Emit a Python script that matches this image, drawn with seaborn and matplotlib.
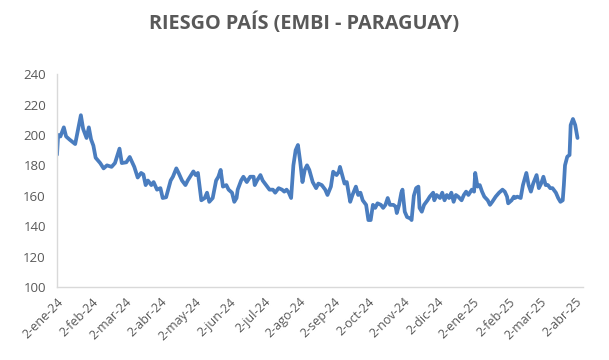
import pandas as pd
import seaborn as sns
import matplotlib.pyplot as plt

# valores (EMBI Paraguay, puntos basicos)
fechas = ['2024-01-02', '2024-01-03', '2024-01-05', '2024-01-08', '2024-01-10', '2024-01-13',
          '2024-01-18', '2024-01-23', '2024-01-25', '2024-01-28', '2024-01-30', '2024-02-01',
          '2024-02-03', '2024-02-05', '2024-02-09', '2024-02-12', '2024-02-15', '2024-02-19',
          '2024-02-22', '2024-02-26', '2024-02-28', '2024-03-03', '2024-03-06', '2024-03-10',
          '2024-03-13', '2024-03-16', '2024-03-18', '2024-03-20', '2024-03-22', '2024-03-25',
          '2024-03-27', '2024-03-30', '2024-04-02', '2024-04-04', '2024-04-07', '2024-04-11',
          '2024-04-13', '2024-04-16', '2024-04-18', '2024-04-21', '2024-04-24', '2024-04-26',
          '2024-04-29', '2024-05-01', '2024-05-03', '2024-05-05', '2024-05-08', '2024-05-11',
          '2024-05-13', '2024-05-15', '2024-05-18', '2024-05-21', '2024-05-23', '2024-05-25',
          '2024-05-27', '2024-05-30', '2024-06-01', '2024-06-04', '2024-06-06', '2024-06-08',
          '2024-06-09', '2024-06-12', '2024-06-14', '2024-06-17', '2024-06-20', '2024-06-23',
          '2024-06-24', '2024-06-26', '2024-06-29', '2024-07-01', '2024-07-04', '2024-07-07',
          '2024-07-10', '2024-07-12', '2024-07-15', '2024-07-18', '2024-07-20', '2024-07-22',
          '2024-07-24', '2024-07-26', '2024-07-28', '2024-07-30', '2024-08-01', '2024-08-03',
          '2024-08-05', '2024-08-07', '2024-08-09', '2024-08-11', '2024-08-14', '2024-08-17',
          '2024-08-19', '2024-08-22', '2024-08-23', '2024-08-25', '2024-08-27', '2024-08-30',
          '2024-09-01', '2024-09-04', '2024-09-06', '2024-09-07', '2024-09-09', '2024-09-11',
          '2024-09-13', '2024-09-16', '2024-09-18', '2024-09-21', '2024-09-23', '2024-09-25',
          '2024-09-27', '2024-09-30', '2024-10-02', '2024-10-04', '2024-10-06', '2024-10-08',
          '2024-10-10', '2024-10-13', '2024-10-15', '2024-10-17', '2024-10-19', '2024-10-21',
          '2024-10-24', '2024-10-26', '2024-10-27', '2024-10-29', '2024-10-31', '2024-11-01',
          '2024-11-03', '2024-11-05', '2024-11-08', '2024-11-09', '2024-11-11', '2024-11-13',
          '2024-11-15', '2024-11-16', '2024-11-18', '2024-11-20', '2024-11-23', '2024-11-25',
          '2024-11-28', '2024-11-29', '2024-12-01', '2024-12-04', '2024-12-06', '2024-12-08',
          '2024-12-10', '2024-12-12', '2024-12-14', '2024-12-16', '2024-12-18', '2024-12-20',
          '2024-12-23', '2024-12-25', '2024-12-27', '2024-12-29', '2025-01-01', '2025-01-03',
          '2025-01-04', '2025-01-06', '2025-01-08', '2025-01-10', '2025-01-12', '2025-01-15',
          '2025-01-17', '2025-01-19', '2025-01-22', '2025-01-25', '2025-01-28', '2025-01-30',
          '2025-02-01', '2025-02-02', '2025-02-05', '2025-02-07', '2025-02-08', '2025-02-10',
          '2025-02-13', '2025-02-15', '2025-02-17', '2025-02-18', '2025-02-20', '2025-02-22',
          '2025-02-24', '2025-02-27', '2025-03-01', '2025-03-03', '2025-03-05', '2025-03-07',
          '2025-03-09', '2025-03-11', '2025-03-13', '2025-03-16', '2025-03-18', '2025-03-20',
          '2025-03-22', '2025-03-23', '2025-03-24', '2025-03-26', '2025-03-28', '2025-03-29',
          '2025-03-31', '2025-04-02', '2025-04-04']

embi = [187, 200, 199, 205, 199, 197,
        194, 213, 204, 198, 205, 197,
        193, 185, 181.5, 178, 180, 179,
        181.5, 191, 181.5, 182, 185.5, 179,
        172, 175, 174, 167, 170, 167,
        169, 164, 165, 158.5, 159, 170,
        172.5, 178, 175, 170, 167, 170,
        173.6, 176, 173.6, 175, 157, 158.5,
        162, 156, 158.5, 170, 172.5, 177,
        166, 167, 164, 162, 156, 158.5,
        164, 170, 172.5, 169, 172.5, 172.5,
        167, 170, 173.6, 170, 167, 164,
        164, 162, 165, 164, 162.7, 164,
        162, 158.5, 180, 190, 193.4, 182.4,
        169, 177, 180, 177, 169, 165,
        168, 167, 166, 164, 160.5, 166,
        175.8, 173.6, 175.8, 179, 173.6, 168,
        169, 156, 160.5, 166, 160.5, 162,
        157, 154, 144, 144, 154, 152,
        155, 154, 152, 154, 158.5, 154,
        154, 152.8, 148.6, 154, 162, 164,
        149.5, 146, 145, 144, 160, 165,
        166, 152, 149.5, 154, 157, 159.4,
        162, 157, 160.5, 158.5, 162, 157,
        160.5, 158.5, 162, 156, 160.5, 159.4,
        157, 160.5, 162.7, 160.5, 164, 162.7,
        175, 166, 167, 162.7, 159.4, 157,
        154, 156, 159.4, 162, 164, 162.7,
        159.4, 155, 157, 159.4, 158.5, 159.4,
        158.5, 167, 172.5, 175, 167, 162.7,
        168, 173.6, 165, 168, 172.5, 167,
        167, 165, 165, 162, 158.5, 156,
        157, 167, 180, 185.7, 186.8, 206.5,
        210.5, 206.5, 198]

meses = ['ene', 'feb', 'mar', 'abr', 'may', 'jun', 'jul', 'ago', 'sep', 'oct', 'nov', 'dic']
y_ticks = [100, 120, 140, 160, 180, 200, 220, 240]

df = pd.DataFrame({'fecha': pd.to_datetime(fechas), 'embi': embi})

sns.set_style('white')
plt.rcParams['font.family'] = ['Open Sans', 'DejaVu Sans']

fig = plt.figure(figsize=(6.09, 3.6), dpi=100)
ax = fig.add_axes([0.0936, 0.203, 0.864, 0.591])

sns.lineplot(data=df, x='fecha', y='embi', color='#4a7dbf', linewidth=2.7, ax=ax)

# ejes
ax.set_ylim(100, 240)
ax.set_yticks(y_ticks)
ax.set_xlim(pd.Timestamp('2024-01-02'), pd.Timestamp('2025-04-09'))
ticks = pd.date_range('2024-01-01', '2025-04-01', freq='MS') + pd.Timedelta(days=1)
ax.set_xticks(ticks)
ax.set_xticklabels([f'2-{meses[t.month - 1]}-{t.strftime("%y")}' for t in ticks],
                   rotation=45, ha='right', rotation_mode='anchor')
ax.set_xlabel('')
ax.set_ylabel('')

for s in ['top', 'right']:
    ax.spines[s].set_visible(False)
for s in ['left', 'bottom']:
    ax.spines[s].set_color('#d9d9d9')
    ax.spines[s].set_linewidth(1)
ax.tick_params(axis='y', length=0, labelsize=9.5, colors='#595959', pad=8)
ax.tick_params(axis='x', length=4, color='#d9d9d9', labelsize=9, labelcolor='#595959', pad=2)
ax.grid(False)

fig.suptitle('RIESGO PAÍS (EMBI - PARAGUAY)', x=0.5, y=0.965, fontsize=14.3,
             fontweight='bold', color='#595959')

fig.savefig('out.png', dpi=100)
